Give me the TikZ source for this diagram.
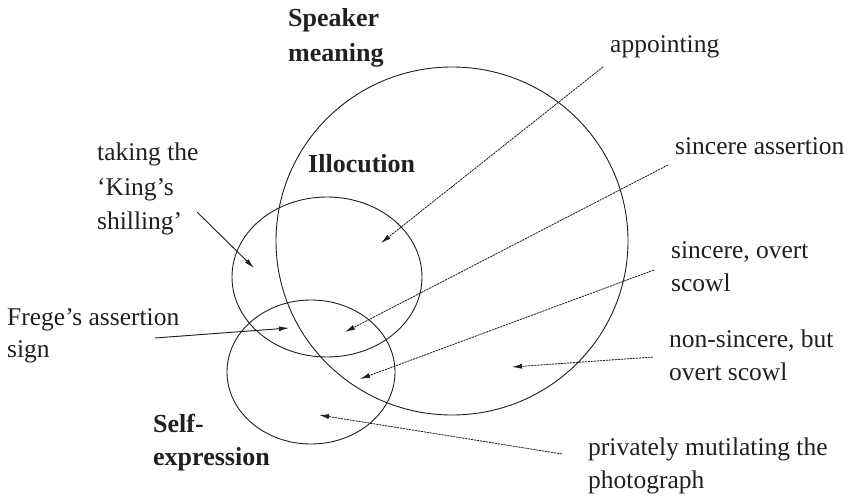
\documentclass[tikz,border=0pt]{standalone}
\usepackage{fontspec}
\setmainfont{Liberation Serif}
\usetikzlibrary{arrows.meta,shapes.geometric}
\definecolor{ink}{HTML}{231F20}
\newcommand\mylines[1]{\begin{tabular}[t]{@{}l@{}}#1\end{tabular}}
\begin{document}
\begin{tikzpicture}[x=1pt,y=-1pt,
  lbl/.style={anchor=base west, inner sep=0pt, text=ink, font=\fontsize{25.5}{33}\selectfont},
  hd/.style={anchor=base west, inner sep=0pt, text=ink, font=\fontsize{26}{34}\selectfont\bfseries},
  setell/.style={draw=ink, ellipse, inner sep=0pt, line width=0.9pt},
  solidarr/.style={draw=ink, fill=ink, -{Latex[length=10pt,width=5pt]}, line width=0.9pt},
  dotarr/.style={draw=ink, fill=ink, -{Latex[length=10pt,width=5pt]}, line width=0.8pt, dash pattern=on 2pt off 1pt}]
\useasboundingbox (0,0) rectangle (851,497);

% sets
\node[setell, minimum width=352pt, minimum height=348pt] (speaker) at (452,241) {};
\node[setell, minimum width=190pt, minimum height=160pt] (illoc) at (327,277) {};
\node[setell, minimum width=168pt, minimum height=144pt] (selfex) at (311,372) {};

% headings
\node[hd, font=\fontsize{26}{35}\selectfont\bfseries] (hspeaker) at (288,27) {\mylines{Speaker\\meaning}};
\node[hd] (hilloc) at (308,173) {Illocution};
\node[hd, font=\fontsize{26}{33}\selectfont\bfseries] (hself) at (153,432) {\mylines{Self-\\expression}};

% labels
\node[lbl, font=\fontsize{25.5}{34.5}\selectfont] (king) at (97,161) {\mylines{taking the\\‘King’s\\shilling’}};
\node[lbl, font=\fontsize{25.5}{32}\selectfont] (frege) at (7,325) {\mylines{Frege’s assertion\\sign}};
\node[lbl] (appoint) at (610,53) {appointing};
\node[lbl] (sinass) at (675,155) {sincere assertion};
\node[lbl] (sinscowl) at (671,258) {\mylines{sincere, overt\\scowl}};
\node[lbl] (nonsin) at (669,347) {\mylines{non-sincere, but\\overt scowl}};
\node[lbl] (priv) at (588,455) {\mylines{privately mutilating the\\photograph}};

% arrow ends
\coordinate (kingS) at (197,212);  \coordinate (kingT) at (254,268);
\coordinate (fregeS) at (155,338); \coordinate (fregeT) at (289,328);
\coordinate (appS) at (603,67);    \coordinate (appT) at (381,243);
\coordinate (sinaS) at (668,165);  \coordinate (sinaT) at (345,332);
\coordinate (sinsS) at (654,270);  \coordinate (sinsT) at (360,379);
\coordinate (nonS) at (653,357);   \coordinate (nonT) at (512,367);
\coordinate (privS) at (562,454);  \coordinate (privT) at (319,415);

\draw[solidarr] (kingS) -- (kingT);
\draw[solidarr] (fregeS) -- (fregeT);
\draw[dotarr] (appS) -- (appT);
\draw[dotarr] (sinaS) -- (sinaT);
\draw[dotarr] (sinsS) -- (sinsT);
\draw[dotarr] (nonS) -- (nonT);
\draw[dotarr] (privS) -- (privT);
\end{tikzpicture}
\end{document}
